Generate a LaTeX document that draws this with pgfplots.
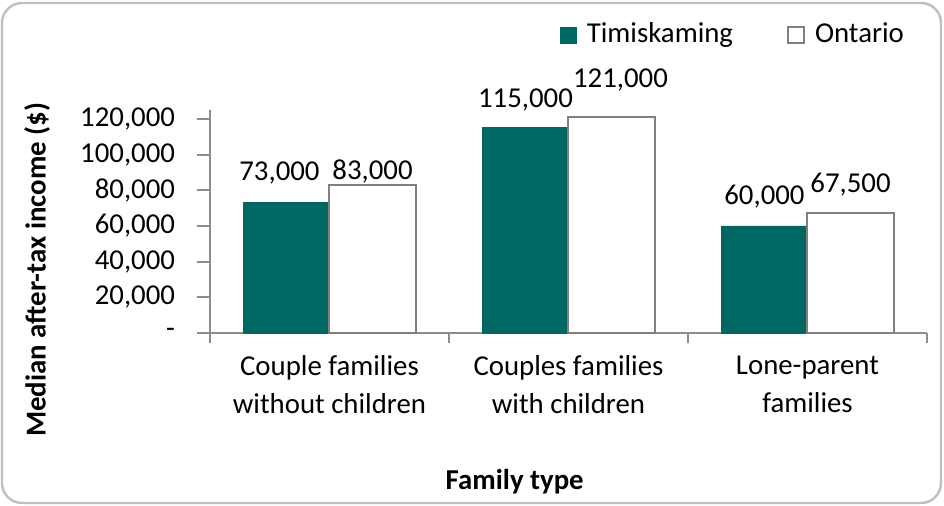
\documentclass[border=0pt]{standalone}
\usepackage{fontspec}
\setmainfont{Carlito}
\usepackage{pgfplots}
\pgfplotsset{compat=1.18}
\usepackage{pgfplotstable}
\definecolor{teal1}{HTML}{006763}
\definecolor{bordgray}{HTML}{808080}
\definecolor{axgray}{HTML}{8C8C8C}
\definecolor{framegray}{HTML}{BFBFBF}

\pgfplotstableread{
x y off xoff
-0.18 73000 15 -3.5
0.82 115000 14 0
1.82 60000 14.5 0
}\timis
\pgfplotstableread{
x y off xoff
0.18 83000 6.5 0
1.18 121000 18.5 4.5
2.18 67500 14 0
}\ontario

\begin{document}
\fontsize{14.4}{17.3}\selectfont
\begin{tikzpicture}
\path (0,0) rectangle (472pt,253pt);
\draw[framegray, line width=1.2pt, rounded corners=10pt] (1pt,1.5pt) rectangle (470.5pt,251.5pt);
\begin{axis}[
  at={(105pt,86.5pt)}, anchor=south west,
  scale only axis, width=358.5pt, height=111.5pt,
  ymin=0, ymax=125000, xmin=-0.5, xmax=2.5,
  enlargelimits=false, clip=false,
  scaled y ticks=false,
  axis lines=left, axis line style={-, draw=axgray, line width=1pt},
  tick align=outside,
  tick style={axgray, line width=1pt},
  major tick length=6.5pt, minor tick length=5pt,
  xtick={0,1,2},
  xticklabels={{Couple families\\without children},{Couples families\\with children},{Lone-parent\\families}},
  major x tick style={draw=none},
  minor xtick={-0.5,0.5,1.5,2.5},
  xticklabel style={align=center, font=\fontsize{14.4}{19}\selectfont},
  ytick={0,20000,40000,60000,80000,100000,120000},
  yticklabels={{-},{20,000},{40,000},{60,000},{80,000},{100,000},{120,000}},
  yticklabel style={xshift=-6pt},
  /pgf/number format/.cd, fixed, precision=0, 1000 sep={,}, assume math mode=true, /pgfplots/.cd,
  ylabel={\bfseries Median after-tax income (\$)},
  y label style={at={(axis description cs:-0.241,0.283)}, anchor=center},
  xlabel={\bfseries Family type},
  x label style={at={(axis description cs:0.425,-0.668)}, anchor=center},
  legend style={at={(0.735,1.336)}, anchor=center, draw=none, fill=none, legend columns=2,
    /tikz/every even column/.append style={column sep=22pt},
    nodes={inner xsep=5pt}},
  legend cell align=left,
  legend image code/.code={\draw[#1] (0pt,-4pt) rectangle (8pt,4pt);},
]
\addplot[ybar, bar width=0.36, bar shift=0, fill=teal1, draw=teal1,
  visualization depends on={\thisrow{off} \as \myoff},
  visualization depends on={\thisrow{xoff} \as \myxoff},
  nodes near coords,
  nodes near coords style={anchor=center, yshift=\myoff, xshift=\myxoff, text=black}]
  table[x=x,y=y]{\timis};
\addlegendentry{Timiskaming}
\addplot[ybar, bar width=0.36, bar shift=0, fill=white, draw=bordgray, line width=1pt,
  visualization depends on={\thisrow{off} \as \myoff},
  visualization depends on={\thisrow{xoff} \as \myxoff},
  nodes near coords,
  nodes near coords style={anchor=center, yshift=\myoff, xshift=\myxoff, text=black}]
  table[x=x,y=y]{\ontario};
\addlegendentry{Ontario}
\end{axis}
\end{tikzpicture}
\end{document}
